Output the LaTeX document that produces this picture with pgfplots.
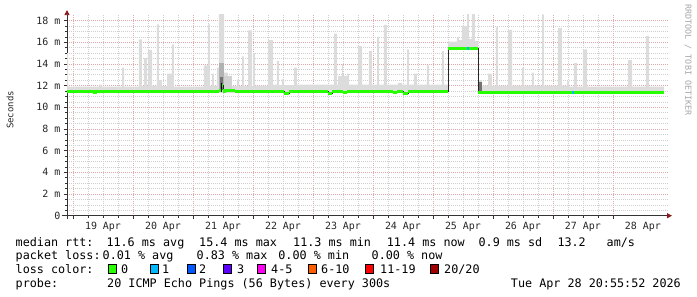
\documentclass[border=0pt]{standalone}
\usepackage{pgfplots}
\pgfplotsset{compat=1.18}
\usepackage{pgfplotstable}
\usepgfplotslibrary{fillbetween}
\usetikzlibrary{arrows.meta}
\usepackage{fontspec}
\setmainfont{DejaVu Sans Mono}
\definecolor{lzero}{HTML}{26FF00}
\definecolor{lone}{HTML}{00B8FF}
\definecolor{ltwo}{HTML}{0059FF}
\definecolor{lthree}{HTML}{5E00FF}
\definecolor{lfour}{HTML}{FF00EE}
\definecolor{lsix}{HTML}{FF5E00}
\definecolor{leleven}{HTML}{FF0000}
\definecolor{ltwenty}{HTML}{A10000}
\definecolor{smoke}{HTML}{DCDCDC}
\definecolor{mgrid}{HTML}{E0A8A8}
\definecolor{ngrid}{HTML}{CFCFCF}
\definecolor{arrowred}{HTML}{8B1A1A}

\pgfplotstableread{
x top
-0.1 15.0
-0.083 11.9
0.433 12.1
0.483 11.9
0.817 13.65
0.85 11.9
1.1 16.27
1.15 11.95
1.183 14.57
1.233 11.95
1.25 15.28
1.317 12.0
1.4 17.66
1.433 12.5
1.483 11.95
1.567 13.1
1.65 15.8
1.683 11.9
2.183 13.86
2.25 17.66
2.283 12.0
2.317 13.1
2.35 12.0
2.4 13.65
2.433 18.6
2.517 13.2
2.583 12.9
2.65 11.95
2.733 12.56
2.767 11.95
2.817 14.7
2.85 11.95
2.917 17.1
2.983 11.95
3.0 15.0
3.033 12.0
3.25 16.2
3.333 12.1
3.4 14.27
3.433 12.05
3.483 12.6
3.517 12.05
3.683 13.65
3.733 12.1
4.35 16.8
4.4 12.1
4.417 12.9
4.483 14.0
4.5 12.9
4.567 13.1
4.6 12.1
4.75 15.65
4.817 12.1
4.933 15.2
4.983 12.1
5.067 16.5
5.1 12.1
5.183 17.6
5.233 12.1
5.417 12.25
5.483 12.1
5.567 15.35
5.6 12.1
5.683 13.1
5.733 12.1
5.9 13.86
5.933 12.1
6.15 15.2
6.183 12.1
6.25 16.05
6.4 16.5
6.433 16.2
6.483 17.5
6.567 18.6
6.6 16.3
6.65 18.6
6.7 16.1
6.75 12.5
6.817 12.0
6.917 13.1
6.983 12.0
7.05 17.4
7.083 12.0
7.25 17.15
7.317 12.0
7.483 13.65
7.517 12.0
7.65 13.2
7.683 12.0
7.817 18.58
7.85 12.0
8.083 17.3
8.15 12.0
8.233 12.4
8.267 11.9
8.35 14.1
8.4 11.9
8.5 15.35
8.567 11.9
9.25 14.35
9.317 11.9
9.55 16.57
9.6 11.9
9.85 11.9
}\smoketop

\pgfplotstableread{
x bot
-0.1 11.3
6.25 15.35
6.75 11.3
9.85 11.3
}\smokebot

\pgfplotstableread{
x y
-0.1 11.47
0.333 11.42
0.4 11.47
2.433 11.55
2.467 12.0
2.5 11.5
2.55 11.55
2.7 11.47
3.517 11.3
3.6 11.45
4.25 11.3
4.317 11.45
4.5 11.33
4.567 11.45
5.333 11.33
5.4 11.45
5.5 11.3
5.583 11.45
6.25 15.43
6.75 11.4
9.85 11.4
}\median

\newcommand\lf{\fontsize{11.8}{13}\selectfont}

\begin{document}
\begin{tikzpicture}
\begin{axis}[
  at={(67bp,81.3bp)}, anchor=south west,
  scale only axis, width=601bp, height=201.6bp,
  xmin=-0.1, xmax=9.917, ymin=0, ymax=18.6,
  axis x line=bottom, axis y line=left,
  axis line style={draw=black!80, line width=0.8bp},
  every outer x axis line/.append style={-{Triangle[length=5bp,width=5bp,color=arrowred]}, shorten >=-4bp, shorten <=-5bp},
  every outer y axis line/.append style={-{Triangle[length=5bp,width=5bp,color=arrowred]}, shorten >=-4bp, shorten <=-3bp},
  tick align=outside,
  major tick length=3bp, minor tick length=2bp,
  tick style={black!80, line width=0.6bp},
  xtick={0,1,...,9}, xticklabels={},
  minor x tick num=3,
  extra x ticks={0.5,1.5,2.5,3.5,4.5,5.5,6.5,7.5,8.5,9.5},
  extra x tick labels={19 Apr,20 Apr,21 Apr,22 Apr,23 Apr,24 Apr,25 Apr,26 Apr,27 Apr,28 Apr},
  extra x tick style={major tick length=0pt, grid=none},
  xticklabel style={yshift=-2.5bp},
  ytick={0,2,...,18},
  yticklabels={0,2 m,4 m,6 m,8 m,10 m,12 m,14 m,16 m,18 m},
  minor y tick num=3,
  grid=both,
  major grid style={mgrid, dash pattern=on 1bp off 1bp, line width=0.6bp},
  minor grid style={ngrid, dash pattern=on 1bp off 1bp, line width=0.6bp},
  tick label style={font=\fontsize{10}{12}\selectfont, text=black!85},
]
\addplot[name path=stop, draw=none, const plot] table[x=x,y=top] {\smoketop};
\addplot[name path=sbot, draw=none, const plot] table[x=x,y=bot] {\smokebot};
\addplot[smoke] fill between[of=stop and sbot];
% darker smoke near 21 Apr and after the step
\addplot[fill=black!30, draw=none] coordinates {(2.433,11.6) (2.517,11.6) (2.517,14.1) (2.433,14.1)};
\addplot[fill=black!18, draw=none] coordinates {(2.517,11.6) (2.65,11.6) (2.65,12.9) (2.517,12.9)};
\addplot[fill=black!55, draw=none] coordinates {(2.45,11.6) (2.5,11.6) (2.5,12.8) (2.45,12.8)};
\addplot[fill=black!55, draw=none] coordinates {(6.75,11.4) (6.817,11.4) (6.817,12.3) (6.75,12.3)};
% median
\addplot[black!85, line width=0.8bp, const plot] table[x=x,y=y] {\median};
\addplot[lzero, line width=3.2bp, jump mark left] table[x=x,y=y] {\median};
\addplot[black, line width=1bp] coordinates {(2.475,11.4) (2.475,12.2)};
\addplot[lone, line width=3.2bp] coordinates {(6.567,15.43) (6.6,15.43)};
\addplot[lone, line width=3.2bp] coordinates {(8.317,11.4) (8.35,11.4)};
\end{axis}

\node[rotate=90, font=\fontsize{9}{10}\selectfont, text=black!85] at (10bp,187bp) {Seconds};
\node[rotate=-90, font=\fontsize{8.4}{9}\selectfont, text=black!35] at (688bp,237bp) {RRDTOOL / TOBI OETIKER};

\begin{scope}[every node/.style={anchor=base west, inner sep=0pt, font=\lf}]
\node at (15.5bp,50.3bp) {median rtt:};
\node at (106.3bp,50.3bp) {11.6 ms avg};
\node at (199bp,50.3bp) {15.4 ms max};
\node at (293bp,50.3bp) {11.3 ms min};
\node at (386.7bp,50.3bp) {11.4 ms now};
\node at (478.4bp,50.3bp) {0.9 ms sd};
\node at (557.3bp,50.3bp) {13.2};
\node at (606.5bp,50.3bp) {am/s};

\node at (15.5bp,37.1bp) {packet loss:};
\node at (102.5bp,37.1bp) {0.01 \% avg};
\node at (196.5bp,37.1bp) {0.83 \% max};
\node at (278.2bp,37.1bp) {0.00 \% min};
\node at (371.5bp,37.1bp) {0.00 \% now};

\node at (15.5bp,23.6bp) {loss color:};
\node at (121bp,23.6bp) {0};
\node at (162bp,23.6bp) {1};
\node at (199bp,23.6bp) {2};
\node at (237bp,23.6bp) {3};
\node at (271bp,23.6bp) {4-5};
\node at (321bp,23.6bp) {6-10};
\node at (380bp,23.6bp) {11-19};
\node at (444bp,23.6bp) {20/20};

\node at (15.5bp,10bp) {probe:};
\node at (107bp,10bp) {20 ICMP Echo Pings (56 Bytes) every 300s};
\node[anchor=base east] at (681bp,10bp) {Tue Apr 28 20:55:52 2026};
\end{scope}
\foreach \xx/\cc in {108/lzero,150/lone,187/ltwo,223/lthree,257/lfour,308/lsix,365/leleven,430/ltwenty}
  \draw[fill=\cc, draw=black, line width=0.8bp] (\xx bp,23.8bp) rectangle ++(8.5bp,8.5bp);
\pgfresetboundingbox
\path[use as bounding box] (0,0) rectangle (697bp,297bp);
\end{tikzpicture}
\end{document}
